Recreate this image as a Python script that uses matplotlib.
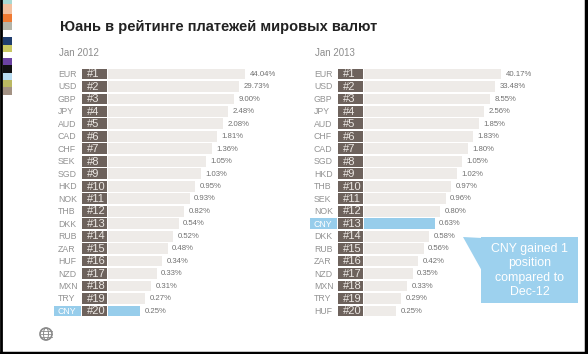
import numpy as np
import matplotlib
matplotlib.use("Agg")
import matplotlib.pyplot as plt
from matplotlib.patches import Rectangle, Polygon, Circle, Ellipse

# data
title = "Юань в рейтинге платежей мировых валют"
period12 = "Jan 2012"
period13 = "Jan 2013"
cur12 = ['EUR', 'USD', 'GBP', 'JPY', 'AUD', 'CAD', 'CHF', 'SEK', 'SGD', 'HKD',
         'NOK', 'THB', 'DKK', 'RUB', 'ZAR', 'HUF', 'NZD', 'MXN', 'TRY', 'CNY']
val12 = [44.04, 29.73, 9.00, 2.48, 2.08, 1.81, 1.36, 1.05, 1.03, 0.95,
         0.93, 0.82, 0.54, 0.52, 0.48, 0.34, 0.33, 0.31, 0.27, 0.25]
cur13 = ['EUR', 'USD', 'GBP', 'JPY', 'AUD', 'CHF', 'CAD', 'SGD', 'HKD', 'THB',
         'SEK', 'NOK', 'CNY', 'DKK', 'RUB', 'ZAR', 'NZD', 'MXN', 'TRY', 'HUF']
val13 = [40.17, 33.48, 8.55, 2.56, 1.85, 1.83, 1.80, 1.05, 1.02, 0.97,
         0.96, 0.80, 0.63, 0.58, 0.56, 0.42, 0.35, 0.33, 0.29, 0.25]
highlight = 'CNY'
callout = "CNY gained 1\nposition\ncompared to\nDec-12"

plt.rcParams['font.family'] = ['Liberation Sans', 'DejaVu Sans']

BROWN = '#6d625c'
BAR = '#eeebe8'
BLUE = '#97cdeb'
GREY = '#939393'

fig = plt.figure(figsize=(5.88, 3.54), dpi=100)
ax = fig.add_axes([0, 0, 1, 1])
ax.set_xlim(0, 588)
ax.set_ylim(354, 0)
ax.axis('off')

# frame and colour strip on the left
ax.plot([1, 1], [0, 354], color='black', lw=2)
ax.plot([586, 586], [0, 354], color='black', lw=2.5)
ax.plot([0, 588], [352.5, 352.5], color='black', lw=2.5)
strip = [(0, 4, '#a8d8d2'), (4, 14, '#f2bf9e'), (14, 22, '#f07a32'), (22, 30, '#b4b4a8'),
         (37, 45, '#1f3d6e'), (45, 52, '#c9c862'), (58, 65, '#6b42a2'), (65, 73, '#111111'),
         (73, 80, '#b9dcf0'), (80, 87, '#bab862'), (87, 95, '#a39284')]
for y0, y1, c in strip:
    ax.add_patch(Rectangle((3, y0), 9, y1 - y0, color=c, lw=0))

ax.text(60, 27, title, fontsize=10.5, fontweight='bold', color='#222222', va='center', ha='left')


def panel(x0, period, cur, val):
    ax.text(x0 + 1, 52.5, period, fontsize=7, color='#8c8c8c', va='center', ha='left')
    n = len(cur)
    rows = 74 + 12.47 * np.arange(n)
    box_x = x0 + 24
    bar_x = box_x + 26
    lengths = 137 - 5.53 * np.arange(n)
    colors = [BLUE if c == highlight else BAR for c in cur]
    ax.barh(rows, lengths, left=bar_x, height=10.8, color=colors, lw=0)
    ax.barh(rows, 25, left=box_x, height=10.8, color=BROWN, lw=0)
    for i, (c, v) in enumerate(zip(cur, val)):
        y = rows[i]
        if c == highlight:
            ax.add_patch(Rectangle((box_x - 28, y - 5.4), 27, 10.8, color=BLUE, lw=0))
            ax.text(box_x - 24, y + 0.5, c, fontsize=6.3, color='white', va='center', ha='left')
        else:
            ax.text(box_x - 24, y + 0.5, c, fontsize=6.3, color=GREY, va='center', ha='left')
        ax.text(box_x + 4.5, y + 0.3, '#%d' % (i + 1), fontsize=8, color='#ece8e4',
                va='center', ha='left')
        ax.text(bar_x + lengths[i] + 4.5, y + 0.3, '%.2f%%' % v, fontsize=5.6,
                color='#707070', va='center', ha='left')


panel(58, period12, cur12, val12)
panel(314, period13, cur13, val13)

# callout
CALL = '#9dd1ee'
ax.add_patch(Polygon([(463, 237), (482, 238), (482, 271)], color=CALL, lw=0))
ax.add_patch(Rectangle((481, 237), 97, 66, color=CALL, lw=0))
ax.text(529.5, 270.5, callout, fontsize=8.9, color='white', ha='center', va='center',
        linespacing=1.25)

# small globe logo
ax.add_patch(Circle((46, 334), 6, fill=False, ec='#8a8a8a', lw=1.2))
ax.add_patch(Ellipse((46, 334), 5, 12, fill=False, ec='#8a8a8a', lw=0.7))
for dy in (-3, 0, 3):
    ax.plot([40.5, 51.5], [334 + dy, 334 + dy], color='#8a8a8a', lw=0.6)

fig.savefig('out.png', dpi=100)
